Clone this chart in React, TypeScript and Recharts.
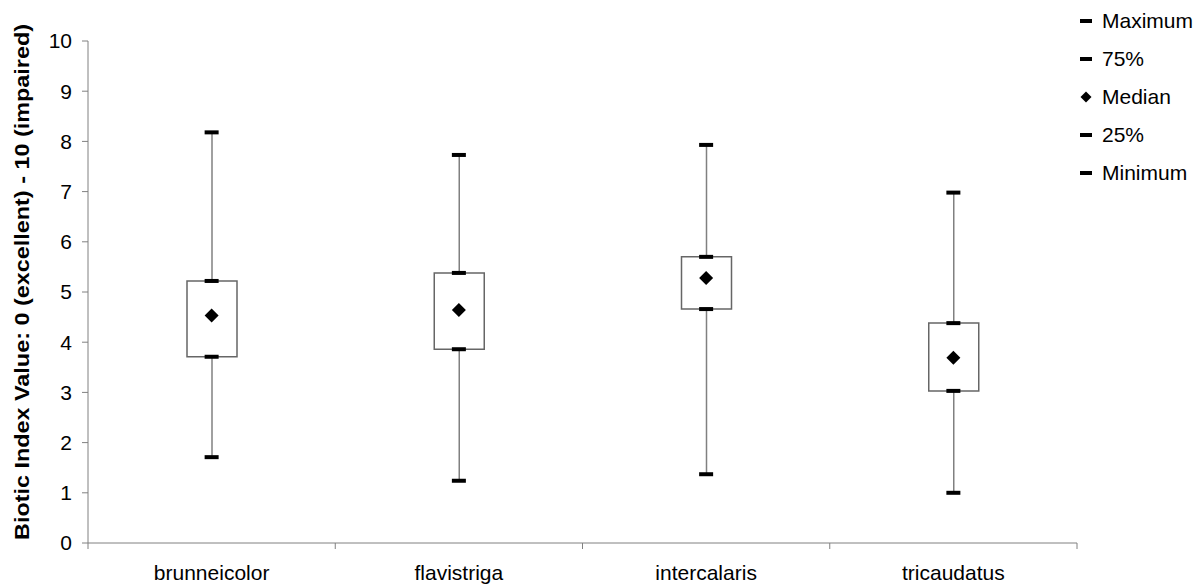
import React from "react";
import {
  Bar,
  ComposedChart,
  Scatter,
  XAxis,
  YAxis,
} from "recharts";

const categories = ["brunneicolor", "flavistriga", "intercalaris", "tricaudatus"];
const maximum = [8.18, 7.73, 7.93, 6.98];
const q75 = [5.22, 5.38, 5.7, 4.38];
const median = [4.53, 4.64, 5.28, 3.69];
const q25 = [3.71, 3.86, 4.66, 3.03];
const minimum = [1.71, 1.24, 1.37, 1.0];
const yTicks = [0, 1, 2, 3, 4, 5, 6, 7, 8, 9, 10];
const legendLabels = ["Maximum", "75%", "Median", "25%", "Minimum"];

const FONT = "'Liberation Sans', Arial, sans-serif";
const AXIS = "#808080";
const CAT_MARGIN = 22;

const data = categories.map((name, i) => ({
  name,
  max: maximum[i],
  q75: q75[i],
  median: median[i],
  q25: q25[i],
  min: minimum[i],
  whisker: [minimum[i], maximum[i]],
  box: [q25[i], q75[i]],
}));

const Cap = (props: any) => {
  const { cx, cy } = props;
  if (cx == null || cy == null) return null;
  return <rect x={cx - 7} y={cy - 2} width={14} height={4} fill="#000" />;
};

const Diamond = (props: any) => {
  const { cx, cy } = props;
  if (cx == null || cy == null) return null;
  const r = 7;
  return (
    <polygon
      points={`${cx},${cy - r} ${cx + r},${cy} ${cx},${cy + r} ${cx - r},${cy}`}
      fill="#000"
    />
  );
};

const WhiskerLine = (props: any) => {
  const { x, y, width, height } = props;
  const cx = x + width / 2;
  return <line x1={cx} x2={cx} y1={y} y2={y + height} stroke={AXIS} strokeWidth={1.5} />;
};

// category label + tick marks on the band edges (Excel style)
const CategoryTick = (props: any) => {
  const { x, y, payload, index, visibleTicksCount } = props;
  const half = payload.offset || 0;
  const axisY = y - CAT_MARGIN;
  return (
    <g>
      <line x1={x - half} x2={x - half} y1={axisY} y2={axisY + 6} stroke={AXIS} />
      {index === visibleTicksCount - 1 && (
        <line x1={x + half} x2={x + half} y1={axisY} y2={axisY + 6} stroke={AXIS} />
      )}
      <text
        x={x}
        y={y}
        dy="0.71em"
        textAnchor="middle"
        fill="#000"
        fontSize={21}
        fontFamily={FONT}
      >
        {payload.value}
      </text>
    </g>
  );
};

const YLabel = () => (
  <text
    x={21}
    y={282}
    transform="rotate(-90 21 282)"
    textAnchor="middle"
    dominantBaseline="central"
    fontFamily={FONT}
    fontWeight="bold"
    fontSize={21}
    textLength={516}
    lengthAdjust="spacingAndGlyphs"
    fill="#000"
  >
    Biotic Index Value: 0 (excellent) - 10 (impaired)
  </text>
);

const LegendBox = () => (
  <div style={{ position: "absolute", left: 1080, top: 0, fontFamily: FONT, fontSize: 21 }}>
    {legendLabels.map((label, i) => (
      <div
        key={label}
        style={{
          position: "absolute",
          top: 21 + i * 38 - 12,
          height: 24,
          display: "flex",
          alignItems: "center",
          whiteSpace: "nowrap",
        }}
      >
        <svg width={20} height={24}>
          {label === "Median" ? (
            <polygon points="6,6.5 11.5,12 6,17.5 0.5,12" fill="#000" />
          ) : (
            <rect x={0} y={10} width={12} height={4} fill="#000" />
          )}
        </svg>
        <span style={{ marginLeft: 2 }}>{label}</span>
      </div>
    ))}
  </div>
);

export default function App() {
  return (
    <div style={{ position: "absolute", left: 0, top: 0, width: 1198, height: 587, background: "#fff" }}>
      <ComposedChart
        width={1198}
        height={587}
        data={data}
        margin={{ top: 41, right: 121, bottom: 4, left: 0 }}
        barGap={-50}
      >
        <XAxis
          dataKey="name"
          type="category"
          stroke={AXIS}
          tickLine={false}
          tickSize={0}
          tickMargin={CAT_MARGIN}
          height={40}
          interval={0}
          tick={<CategoryTick />}
        />
        <YAxis
          domain={[0, 10]}
          ticks={yTicks}
          width={88}
          tickSize={6}
          tickMargin={10}
          stroke={AXIS}
          tick={{ fill: "#000", fontSize: 21, fontFamily: FONT }}
          label={<YLabel />}
        />
        <Bar dataKey="whisker" barSize={50} shape={<WhiskerLine />} isAnimationActive={false} />
        <Bar
          dataKey="box"
          barSize={50}
          fill="#fff"
          stroke="#666"
          strokeWidth={1.5}
          isAnimationActive={false}
        />
        <Scatter name="Maximum" dataKey="max" shape={<Cap />} isAnimationActive={false} />
        <Scatter name="75%" dataKey="q75" shape={<Cap />} isAnimationActive={false} />
        <Scatter name="Median" dataKey="median" shape={<Diamond />} isAnimationActive={false} />
        <Scatter name="25%" dataKey="q25" shape={<Cap />} isAnimationActive={false} />
        <Scatter name="Minimum" dataKey="min" shape={<Cap />} isAnimationActive={false} />
      </ComposedChart>
      <LegendBox />
    </div>
  );
}
